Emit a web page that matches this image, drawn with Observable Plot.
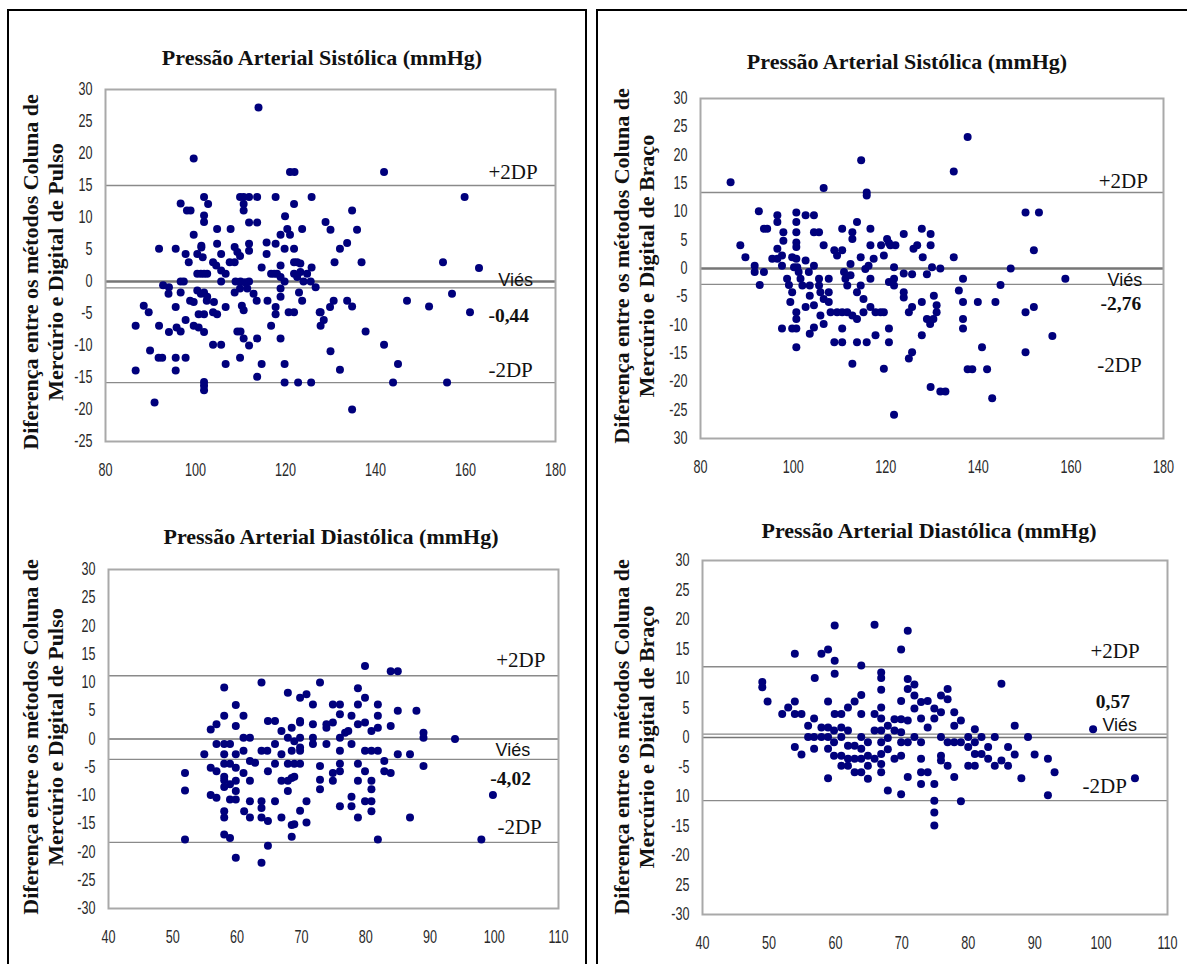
<!DOCTYPE html>
<html>
<head>
<meta charset="utf-8">
<script src="https://cdn.jsdelivr.net/npm/d3@7"></script>
<script src="https://cdn.jsdelivr.net/npm/@observablehq/plot@0.6"></script>
<style>
  html, body { margin: 0; padding: 0; background: #fff; }
  body { width: 1187px; height: 964px; overflow: hidden; position: relative; }
  .box { position: absolute; border: 2px solid #000; box-sizing: border-box; }
  .title { position: absolute; font-family: "Liberation Serif", "Times New Roman", serif; font-weight: bold;
           font-size: 22px; color: #111; white-space: nowrap; transform: translate(-50%, -50%); }
  .ylab { position: absolute; font-family: "Liberation Serif", "Times New Roman", serif; font-weight: bold;
          font-size: 22px; color: #111; white-space: nowrap; text-align: center; line-height: 25px;
          transform: translate(-50%, -50%) rotate(-90deg); }
  .panel { position: absolute; }
</style>
</head>
<body>
<div class="box" style="left:7px;top:9px;width:580px;height:1000px"></div>
<div class="box" style="left:596px;top:9px;width:700px;height:1000px"></div>
<div id="root"></div>
<script>
// ---------------- data ----------------
const titleSys = "Pressão Arterial Sistólica (mmHg)";
const titleDia = "Pressão Arterial Diastólica (mmHg)";
const yLabelPulso = ["Diferença entre os métodos Coluna de", "Mercúrio e Digital de Pulso"];
const yLabelBraco = ["Diferença entre os métodos Coluna de", "Mercúrio e Digital de Braço"];

const sysXTicks = [80, 100, 120, 140, 160, 180];
const diaXTicks = [40, 50, 60, 70, 80, 90, 100, 110];
const p1YTicks = [30, 25, 20, 15, 10, 5, 0, -5, -10, -15, -20, -25];
const p1YLabels = ["30", "25", "20", "15", "10", "5", "0", "-5", "-10", "-15", "-20", "-25"];
const fullYTicks = [30, 25, 20, 15, 10, 5, 0, -5, -10, -15, -20, -25, -30];
const p2YLabels = ["30", "25", "20", "15", "10", "5", "0", "-5", "-10", "-15", "-20", "-25", "30"];
const p3YLabels = ["30", "25", "20", "15", "10", "5", "0", "-5", "-10", "-15", "-20", "-25", "-30"];
const p4YLabels = ["30", "25", "20", "15", "10", "5", "0", "-5", "10", "-15", "-20", "25", "-30"];

// limit lines (upper, bias, lower)
const p1Lines = [15, -1.0, -15.8];
const p2Lines = [13.4, -2.8];
const p3Lines = [11.2, -3.6, -18.3];
const p4Lines = [12.0, 0.57, -10.7];

// annotations [label, x, y, kind]
const p1Notes = [["+2DP", 165.1, 17.0, "dp"], ["Viés", 167.3, 0.2, "v"], ["-0,44", 165.1, -5.4, "b"], ["-2DP", 165.1, -13.9, "dp"]];
const p2Notes = [["+2DP", 166.0, 15.4, "dp"], ["Viés", 167.9, -2.0, "v"], ["-2,76", 166.4, -6.3, "b"], ["-2DP", 165.7, -17.0, "dp"]];
const p3Notes = [["+2DP", 100.3, 13.9, "dp"], ["Viés", 100.2, -1.9, "v"], ["-4,02", 99.4, -7.0, "b"], ["-2DP", 100.5, -15.7, "dp"]];
const p4Notes = [["+2DP", 98.4, 14.6, "dp"], ["0,57", 99.2, 6.0, "b"], ["Viés", 100.2, 2.1, "v"], ["-2DP", 97.2, -8.3, "dp"]];

// points [mean, difference]
const p1Points = [
[114,27.2],[99.6,19.2],[121,17.1],[122,17.1],[141.9,17.1],
[101.9,13.2],[109.9,13.2],[110.7,13.2],[111.9,13.2],[113.7,13.2],[117.8,13.2],[125.8,13.2],[159.8,13.2],
[96.7,12.2],[98.1,11.1],[98.9,11.1],[102.8,12.1],[110.7,12.1],[110.7,11.1],[121.9,12.1],[134.8,11.1],
[101.9,10.3],[101.9,9.3],[111.9,9.2],[113.7,9.2],[119.9,10.2],[123.7,8.2],[128.9,9.3],[130,8.1],[135.9,8.1],
[104.8,8.2],[107.8,8.2],[99.6,7.3],[120.4,8.2],[121,7.3],[118.9,7.3],[133.7,6.0],[132.1,5.1],
[91.9,5.1],[95.6,5.1],[101.3,5.6],[104.8,5.9],[108.7,5.4],[109.3,4.6],[111.9,5.9],[111.9,4.8],[115.8,6.1],[117.8,5.9],[119.8,5.1],[121.9,5.1],
[130.9,3.0],[136.9,3.0],[155,3.0],[163,2.1],
[97.8,4.3],[98.5,3.0],[100.4,4.3],[101.3,5.3],[101.6,3.8],[103.9,3.0],[104.6,2.5],[105.7,4.3],[107.6,3.0],[108.7,3.0],[109.9,4.0],[115.8,4.3],[118.9,2.5],[121.9,3.0],[122.6,3.0],[123.3,2.8],[125.8,2.2],
[100.4,1.2],[101.2,1.2],[101.9,1.2],[102.6,1.2],[105.7,1.7],[106.7,1.2],[105.7,0],[108.9,0],[110,0],[111,-0.1],[111.9,0],[114.7,2.2],[116.8,1.2],[117.5,1.2],[118.1,1.2],[118.9,0.7],[119.8,0],[121.9,1.2],[122.6,0.7],[123.3,1.5],[124,0],[124.8,1.2],[125.6,0],[96.7,0],[97.4,0],[126.7,-0.9],
[92.8,-0.6],[94.1,-0.9],[94,-1.9],[96.7,-1.7],[100.4,-1.4],[101.2,-1.9],[101.9,-1.7],[102.6,-2.4],[108.7,-1.7],[109.9,-1.1],[111.5,-1.1],[112.9,-1.9],[118.9,-1.1],[118.9,-2.4],[123,-1.7],[123.7,-3.0],[157,-1.9],
[88.5,-3.8],[89.6,-4.8],[95.6,-4.0],[98.8,-3.0],[99.6,-3.2],[102.5,-3.0],[104.1,-3.2],[100.7,-5.1],[101.9,-5.1],[103.9,-4.8],[104.8,-5.1],[106.7,-4.0],[110.3,-3.8],[110.7,-4.5],[113.6,-3.0],[116,-3.0],[117.8,-4.0],[117.8,-5.1],[120.7,-4.8],[121.9,-4.8],[127.6,-4.8],
[130.7,-3.0],[129.9,-4.0],[127.8,-4.8],[128.5,-6.0],[127.8,-6.9],[133.7,-3.0],[134.8,-3.9],[147,-3.0],[151.9,-3.9],[161,-4.8],
[86.7,-6.9],[91.9,-6.9],[95.8,-7.2],[96.7,-7.8],[97.8,-6.0],[99.6,-6.9],[100.7,-7.2],[101.9,-7.9],[94.1,-7.9],[109.3,-7.8],[110,-7.8],[116.8,-6.9],[137.8,-7.8],
[110.7,-8.9],[111.9,-10],[113.7,-8.9],[118.9,-8.9],[103.9,-9.9],[105.7,-9.9],[141.9,-9.9],[130,-10.9],
[89.9,-10.8],[91.8,-11.9],[92.6,-11.9],[95.6,-11.9],[97.8,-11.9],[95.6,-13.9],[86.7,-13.9],[106.7,-12.9],[109.9,-11.9],[114.7,-12.9],[119.8,-12.9],[132.1,-13.8],[145,-12.9],
[101.9,-15.7],[101.9,-16.3],[101.9,-17],[113.7,-14.9],[119.8,-15.8],[122.8,-15.8],[125.7,-15.8],[143.9,-15.8],[155.9,-15.8],[134.8,-20],[90.9,-18.9]
];

const p2Points = [
[86.5,15.2],[106.6,14.2],[114.7,19.1],[115.9,12.9],[115.9,13.4],
[88.6,4.1],[89.7,2.0],[91.7,0.5],[91.7,-0.6],[93.7,-0.6],[92.8,-2.9],[92.6,10.1],[93.7,7.0],[94.4,7.0],
[95.5,1.7],[96.6,3.5],[96.6,1.7],[97.6,2.3],[96.6,9.4],[96.6,8.2],[97.9,6.4],[97.9,4.9],[97.6,0.5],[98.7,-1.8],[99.1,-2.9],[97.6,-10.6],
[99.8,2.0],[100.2,0.2],[100.7,9.9],[100.7,8.2],[100.7,6.4],[100.7,4.6],[100.7,3.8],[100.7,1.7],[100.9,0.2],[99.8,-4.2],[99.4,-5.9],[100.7,-7.7],[100.7,-8.9],[99.8,-10.6],[100.7,-10.6],[100.7,-13.9],
[101.2,-0.6],[101.6,-1.8],[102,-3],[102.7,9.4],[104.5,9.4],[102.7,1.4],[103.4,-0.6],[102.7,-6.8],[103.6,-3],[103.6,-4.8],[104.5,6.4],[105.6,6.4],[104.5,0.5],[104.5,-6.5],[103.6,-11.5],[104.5,-10.4],
[105.6,-1.8],[105.6,-3],[105.9,-4.2],[106.6,-5.4],[106.6,4.1],[105.9,-8.3],[106.6,-9.8],
[107.7,-1.8],[107.7,-4.2],[107.7,-5.9],[108.1,-7.7],[108.9,3.2],[109.5,2.3],[110.6,3.2],[108.9,-13],[110.6,-13],
[109.5,-7.7],[110.6,-7.7],[111.7,-7.7],[112.8,-8.3],[113.8,-8.9],[110.6,7.0],[110.6,-10.6],
[111,-0.6],[111.3,-1.8],[111.7,-3],[112.4,-1.2],[112.4,0.8],[112.8,5.2],[112.8,6.4],[113.8,8.2],[112.8,-16.8],[113.8,-13],[115.9,-13],[114.6,2],
[114.6,-3],[113.8,-4.2],[115.2,-5.4],[115.6,-0.1],[116.3,0.5],[116.7,-1.8],[117.4,1.7],[116.7,7.0],[116.7,4.1],
[115.2,-7.7],[116.7,-6.8],[117.8,-7.7],[118.9,-7.7],[119.6,-7.7],[117.8,-11.8],[119.6,-17.7],[119,4.1],[119.6,2.3],[120.3,5.2],[120.7,-2.4],[120.7,-10.6],[120.7,-13],
[120.7,4.5],[121,4.1],[122.1,4.1],[121.8,0.2],[121.8,-1.8],[121.8,-3],[121.8,-25.8],
[123.9,6.1],[123.9,-0.9],[123.9,-4.2],[123.9,-5.1],[125,-7.7],[125.7,-6.8],[125,-15.9],[125.7,-14.8],[125.7,-1],[126,3.5],[126.8,4.1],[127.8,7.0],[128,2],[127.8,-5.9],[127.8,-11.8],
[128.9,-1],[130,0.2],[128.9,-8.9],[129.6,-9.8],[130.3,-8.9],[131,-7.7],[131,-6.5],[129.7,6.1],[129.7,4.1],[130.4,-4.8],[129.7,-20.9],[131.8,0],[131.8,-21.7],[132.9,-21.7],
[134.7,2],[134.7,17.1],[135.8,-3.9],[136.7,-1.8],[136.7,-5.9],[136.7,-8.9],[136.7,-10.6],[137.7,23.2],[137.7,-17.8],[138.7,-17.8],[139.9,-5.9],[140.8,-13.9],[141.9,-17.8],[143,-22.9],[143.7,-5.9],[144.8,-2.9],[147,0],[150.2,9.9],[153.1,9.9],[150.2,-7.7],[150.2,-14.8],[152,3.2],[152,-6.8],[156,-11.9],[158.8,-1.8]
];

const p3Points = [
[51.9,-6],[51.9,-9.1],[51.9,-17.8],[54.9,-2.7],[55.9,1.7],[55.9,-5.1],[55.9,-9.9],[56.8,2.6],[56.8,-0.9],[56.8,-5.7],[56.8,-10.4],
[58,9.1],[58,4.1],[58,-0.9],[58,-2.7],[58,-4.4],[58,-6.7],[58,-7.3],[58,-8.5],[58,-12.8],[58,-13.9],[58,-16.9],
[58.9,-0.9],[58.9,-4.4],[58.9,-8],[58.9,-10.7],[58.9,-17.5],
[59.8,6],[59.8,2.3],[59.8,-2.7],[59.8,-5.1],[59.8,-7.4],[59.8,-9.2],[59.8,-10.7],[59.8,-21],
[61,4.1],[61,0.2],[61,-2.1],[61,-6],[61.1,-12.8],[62,0.2],[62,-3.9],[62,-7.4],[62,-11],[62,-13.9],[62.8,-4.2],
[63.8,10],[63.8,-2.1],[63.8,-11],[63.8,-12.2],[63.8,-13.9],[63.8,-21.9],
[64.7,-2.1],[64.8,3.2],[64.8,-5.7],[64.8,-14.5],[64.8,-18.9],[65.9,3.2],[65.9,-0.9],[65.9,-4.4],[65.9,-11],
[66.9,1.4],[66.9,-2.7],[66.9,-7.4],[66.9,-13.9],[67.9,8.2],[67.9,0.2],[67.9,-4.4],[67.9,-7.4],[67.9,-9.2],
[68.9,-0.4],[68.9,-4.4],[68.9,-6.7],[68.9,-15.1],[69.8,7.3],[69.8,3.2],[69.8,-2.1],[69.8,0.2],
[68.5,2],[68.5,-2.1],[68.5,-6.9],[68.5,-15.2],[68.5,-17.3],
[69.8,2.9],[69.8,-1.5],[69.8,-4.4],[69.8,-12.7],
[70.8,7.9],[70.8,-11],[70.8,-14.8],
[71.8,6.1],[71.8,2.6],[71.8,0.2],[71.8,-0.9],
[72.9,10],[72.9,-4.8],[72.9,-7.2],[72.9,-8.9],
[73.9,2.6],[73.9,-0.9],[73.9,2],
[74.9,6.1],[74.9,2.9],[74.9,-6],[74.9,-7.4],
[76,6.1],[76,4.4],[76,0.2],[76,-2.1],[76,-4.4],[76,-5.7],[76,-11.9],
[76.8,1.1],[77.3,1.4],[77.8,4.1],[77.8,-0.9],[77.8,-11.9],[77.8,-10.2],
[78.8,9],[78.8,6.1],[78.8,2.6],[78.8,-4.4],[78.8,-7.4],[78.8,-13.9],
[79.9,12.9],[79.9,7.3],[79.9,2.9],[79.9,-2.1],[79.9,-5.7],[79.9,-11],
[80.9,1.4],[80.9,-2.1],[80.9,-7.4],[80.9,-8.9],[80.9,-11],[80.9,-12.8],
[81.9,6.1],[81.9,4.1],[81.9,2],[81.9,-2.1],[81.9,-17.8],
[82.9,-3.9],[82.9,-5.7],
[83.9,12],[85,12],[83.9,2.3],[83.9,-6],[85,5],[85,-2.7],
[86.9,-2.7],[86.9,-13.9],[87.9,5],[89,1.1],[89,0.2],[89,-4.8],[93.9,0],[98,-17.8],[99.8,-9.9]
];

const p4Points = [
[49,9.4],[49,8.5],[49.8,6.1],[52,4],[52.9,5.1],[53.9,14.2],[53.9,6.1],[53.9,4],[53.9,-1.6],[54.9,4],[54.9,-2.9],
[55.9,2],[55.9,0.1],[56.8,3.2],[56.8,0.1],[56.8,-1.9],[56.9,10.1],[57.9,14.2],[57.9,1.7],[57.9,0.1],
[58.9,14.9],[58.9,6.1],[58.9,1.7],[58.9,0.1],[58.9,-1.9],[58.9,-6.9],
[59.8,1.2],[59.8,-0.8],[59.8,-3.1],[59.9,19],[59.9,13],[59.9,10.8],[59.9,4],
[60.9,4],[60.9,1.7],[60.9,0.1],[60.9,-3.1],[60.9,-4.8],
[61.9,5.1],[61.9,1.2],[61.9,-1.4],[61.9,-3.6],[61.9,-4.8],
[62.9,6.1],[62.9,-1.4],[62.9,-3.6],[62.9,-5.9],
[63.9,12.2],[63.9,7.2],[63.9,4],[63.9,0.1],[63.9,-1.9],[63.9,-3.6],[63.9,-5.9],
[64.9,-0.8],[64.9,-3.1],[64.9,-4.8],[64.9,-7],
[65.9,19.1],[65.9,4],[65.9,1.2],[65.9,-3.6],
[66.9,11],[66.9,10.1],[66.9,8.1],[66.9,5.1],[66.9,3.2],[66.9,1.2],[66.9,-0.8],[66.9,-2.8],[66.9,-4.5],[66.9,-5.9],
[67.9,2],[67.9,-0.1],[67.9,-2],[67.9,-9],
[68.9,3.1],[68.9,1.2],[68.9,-3.6],
[69.9,6.2],[69.9,3.1],[69.9,0.9],[69.9,-0.8],[69.9,-3.1],[69.9,-9.6],[69.9,14.9],
[70.9,18.1],[70.9,9.9],[70.9,8.2],[70.9,2.9],[70.9,-0.8],[70.9,-6.7],
[71.9,9],[71.9,7.1],[71.9,4.9],[71.9,0.1],
[72.9,6],[72.9,3.2],[72.9,-0.8],[72.9,-3.6],[72.9,-5.9],[72.9,-7.9],
[73.9,6.2],[73.9,1.7],[73.9,-5.9],
[74.9,4.9],[74.9,3.2],[74.9,-7.9],[74.9,-10.7],[74.9,-12.7],[74.9,-14.9],
[75.9,7.1],[75.9,4.3],[75.9,0.1],[75.9,-3.1],[75.9,-3.9],
[76.9,8.2],[76.9,6.5],[76.9,-0.8],[76.9,-4.8],
[77.9,4.3],[77.9,2],[77.9,-0.8],[77.9,-6.7],
[78.9,2.9],[78.9,-0.8],[78.9,-10.8],
[80,0.1],[80,-1.6],[80,-4.8],
[81,1.4],[81,-0.8],[81,-2.8],[81,-4.8],
[82,0.1],[82,-2.8],[83,-1.6],[83,-3.6],[84,0.1],[84,-4.8],
[85,9.1],[85,-3.9],[86,-1.6],[86,-4.8],[87,2],[87,-2.9],[88,-6.9],[89,0.1],[90,-2.9],[92,-3.6],[92,-9.8],[93,-5.9],[98.8,1.4],[105.1,-6.9]
];

// ---------------- drawing ----------------
const SANS = '"Liberation Sans", Arial, sans-serif';
const SERIF = '"Liberation Serif", "Times New Roman", serif';
const SVGNS = "http://www.w3.org/2000/svg";
const root = document.getElementById("root");

function addDiv(cls, html, x, y) {
  const d = document.createElement("div");
  d.className = cls;
  d.innerHTML = html;
  d.style.left = x + "px";
  d.style.top = y + "px";
  root.appendChild(d);
}

// Narrow the glyphs of sans text (the source uses a condensed face):
// wrap each text in a group that scales horizontally about the text's anchor.
function condense(svg, selector, k, anchor) {
  svg.querySelectorAll(selector).forEach(t => {
    const parent = t.parentNode;
    const b = t.getBoundingClientRect();
    const sx = anchor === "end" ? b.right : anchor === "start" ? b.left : (b.left + b.right) / 2;
    const m = parent.getScreenCTM().inverse();
    const p = new DOMPoint(sx, (b.top + b.bottom) / 2).matrixTransform(m);
    const g = document.createElementNS(SVGNS, "g");
    g.setAttribute("transform", `translate(${p.x},0) scale(${k},1) translate(${-p.x},0)`);
    parent.insertBefore(g, t);
    g.appendChild(t);
  });
}

function panel(cfg) {
  const mL = 50, mT = 10, mR = 18, mB = 45;
  const labelMap = new Map(cfg.yTicks.map((t, i) => [t, cfg.yLabels[i]]));
  const notes = cfg.notes.map(([label, x, y, kind]) => ({label, x, y, kind}));
  const chart = Plot.plot({
    width: cfg.fw + mL + mR,
    height: cfg.fh + mT + mB,
    marginLeft: mL, marginTop: mT, marginRight: mR, marginBottom: mB,
    x: {domain: cfg.xDomain},
    y: {domain: cfg.yDomain},
    style: {background: "transparent", overflow: "visible", color: "#2a2a2a"},
    marks: [
      Plot.ruleY(cfg.lines, {stroke: "#8a8a8a", strokeWidth: 1.4}),
      Plot.ruleY([0], {stroke: "#767676", strokeWidth: cfg.zeroW}),
      Plot.frame({stroke: "#a9a9a9", strokeWidth: 2}),
      Plot.dot(cfg.points, {x: d => d[0], y: d => d[1], r: 4, fill: "#00007c", stroke: "none"}),
      Plot.text(notes.filter(d => d.kind === "dp"), {x: "x", y: "y", text: "label", textAnchor: "start",
        fontFamily: SERIF, fontSize: 21, fill: "#111"}),
      Plot.text(notes.filter(d => d.kind === "v"), {x: "x", y: "y", text: "label", textAnchor: "start",
        fontFamily: SANS, fontSize: 18, fill: "#111", ariaLabel: "vies"}),
      Plot.text(notes.filter(d => d.kind === "b"), {x: "x", y: "y", text: "label", textAnchor: "start",
        fontFamily: SERIF, fontWeight: "bold", fontSize: 19.5, fill: "#111"}),
      Plot.axisX({ticks: cfg.xTicks, tickSize: 0, tickPadding: 22, tickFormat: d => String(d),
        fontFamily: SANS, fontSize: 17.5, label: null}),
      Plot.axisY({ticks: cfg.yTicks, tickSize: 0, tickPadding: 13, tickFormat: d => labelMap.get(d),
        fontFamily: SANS, fontSize: 17.5, label: null})
    ]
  });
  chart.classList.add("panel");
  chart.style.left = (cfg.fx - mL) + "px";
  chart.style.top = (cfg.fy - mT) + "px";
  root.appendChild(chart);
  condense(chart, 'g[aria-label="y-axis tick label"] text', 0.72, "end");
  condense(chart, 'g[aria-label="x-axis tick label"] text', 0.72, "middle");
  condense(chart, 'g[aria-label="vies"] text', 0.8, "start");
  addDiv("title", cfg.title, cfg.titleX, cfg.titleY);
  addDiv("ylab", cfg.ylab.join("<br>"), cfg.ylabX, cfg.ylabY);
}

panel({title: titleSys, titleX: 322, titleY: 58, ylab: yLabelPulso, ylabX: 43, ylabY: 272,
  fx: 105, fy: 89, fw: 450, fh: 352, xDomain: [80, 180], yDomain: [-25, 30],
  xTicks: sysXTicks, yTicks: p1YTicks, yLabels: p1YLabels, lines: p1Lines, zeroW: 2.4,
  notes: p1Notes, points: p1Points});
panel({title: titleSys, titleX: 907, titleY: 62, ylab: yLabelBraco, ylabX: 634, ylabY: 266,
  fx: 700, fy: 98, fw: 463, fh: 340, xDomain: [80, 180], yDomain: [-30, 30],
  xTicks: sysXTicks, yTicks: fullYTicks, yLabels: p2YLabels, lines: p2Lines, zeroW: 2.4,
  notes: p2Notes, points: p2Points});
panel({title: titleDia, titleX: 331, titleY: 537, ylab: yLabelPulso, ylabX: 43, ylabY: 737,
  fx: 108, fy: 569, fw: 450, fh: 339, xDomain: [40, 110], yDomain: [-30, 30],
  xTicks: diaXTicks, yTicks: fullYTicks, yLabels: p3YLabels, lines: p3Lines, zeroW: 1.4,
  notes: p3Notes, points: p3Points});
panel({title: titleDia, titleX: 929, titleY: 531, ylab: yLabelBraco, ylabX: 634, ylabY: 737,
  fx: 702, fy: 560, fw: 465, fh: 354, xDomain: [40, 110], yDomain: [-30, 30],
  xTicks: diaXTicks, yTicks: fullYTicks, yLabels: p4YLabels, lines: p4Lines, zeroW: 1.6,
  notes: p4Notes, points: p4Points});
</script>
</body>
</html>
